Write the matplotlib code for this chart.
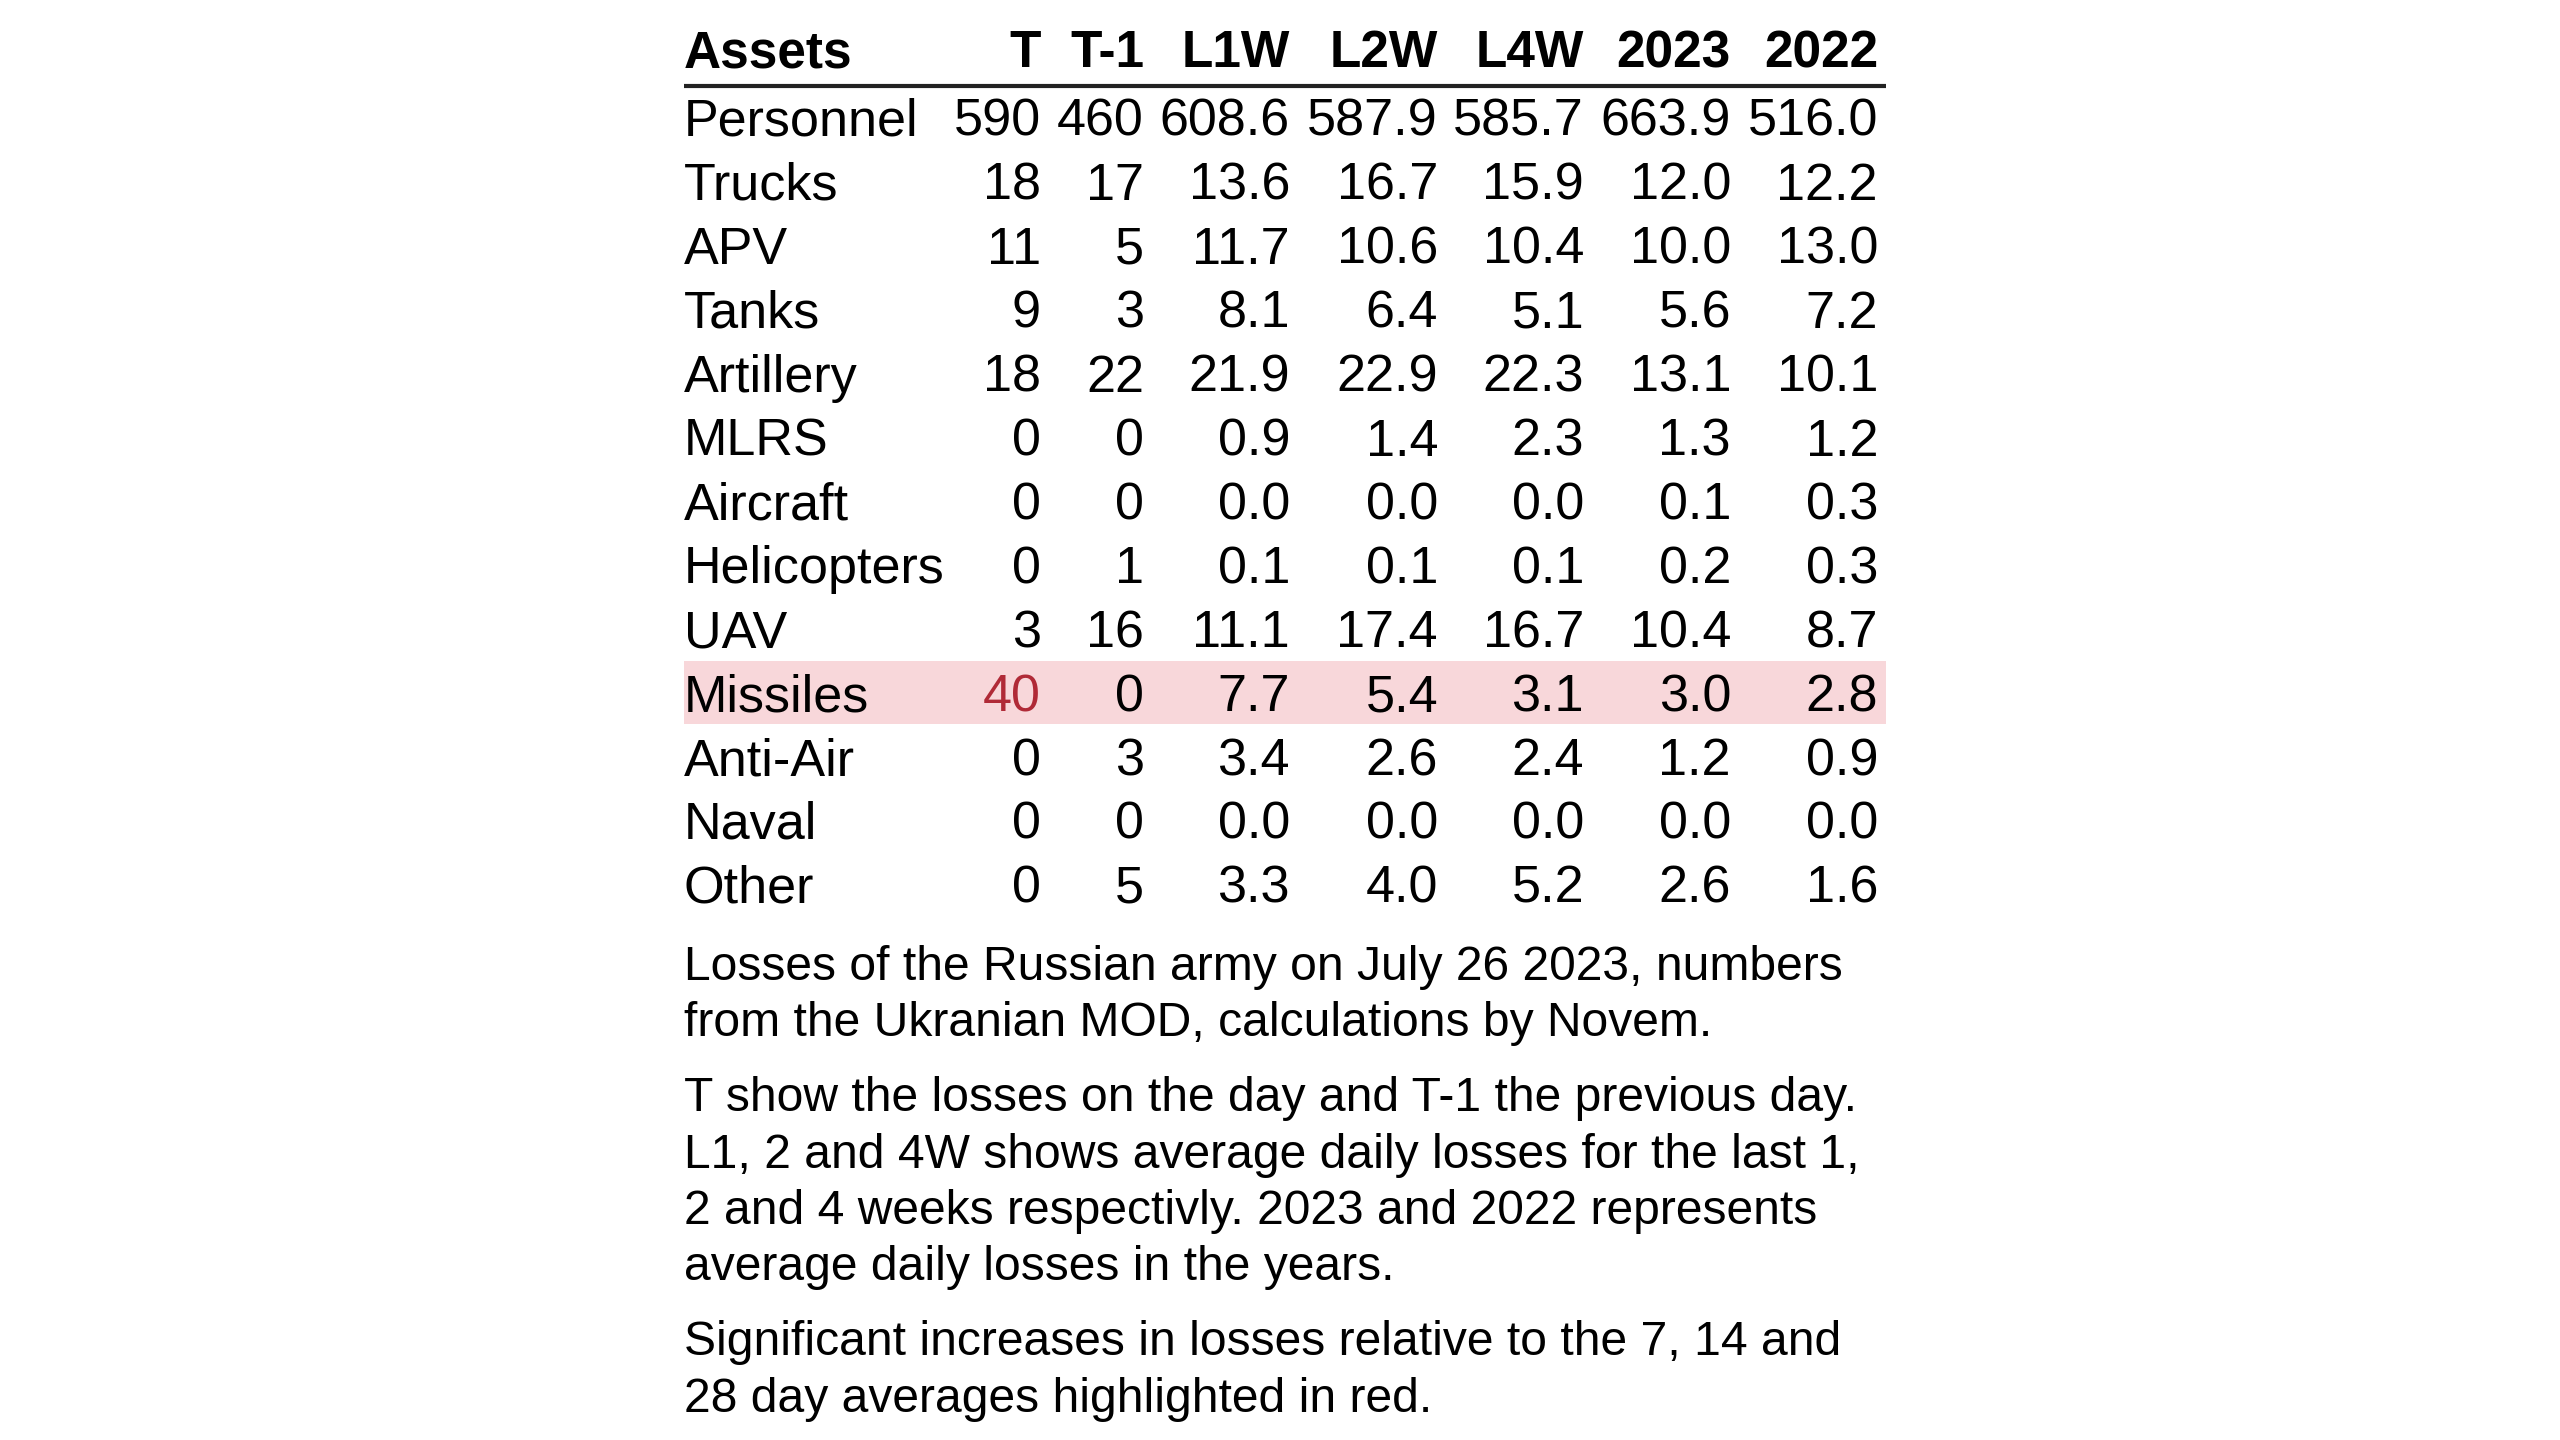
import matplotlib
matplotlib.use('Agg')
import matplotlib.pyplot as plt

plt.rcParams['font.family'] = ['Liberation Sans', 'DejaVu Sans']

# data
assets = ['Personnel', 'Trucks', 'APV', 'Tanks', 'Artillery', 'MLRS', 'Aircraft',
          'Helicopters', 'UAV', 'Missiles', 'Anti-Air', 'Naval', 'Other']
col_labels = ['T', 'T-1', 'L1W', 'L2W', 'L4W', '2023', '2022']
t_vals = [590, 18, 11, 9, 18, 0, 0, 0, 3, 40, 0, 0, 0]
t1_vals = [460, 17, 5, 3, 22, 0, 0, 1, 16, 0, 3, 0, 5]
l1w_vals = [608.6, 13.6, 11.7, 8.1, 21.9, 0.9, 0.0, 0.1, 11.1, 7.7, 3.4, 0.0, 3.3]
l2w_vals = [587.9, 16.7, 10.6, 6.4, 22.9, 1.4, 0.0, 0.1, 17.4, 5.4, 2.6, 0.0, 4.0]
l4w_vals = [585.7, 15.9, 10.4, 5.1, 22.3, 2.3, 0.0, 0.1, 16.7, 3.1, 2.4, 0.0, 5.2]
y2023_vals = [663.9, 12.0, 10.0, 5.6, 13.1, 1.3, 0.1, 0.2, 10.4, 3.0, 1.2, 0.0, 2.6]
y2022_vals = [516.0, 12.2, 13.0, 7.2, 10.1, 1.2, 0.3, 0.3, 8.7, 2.8, 0.9, 0.0, 1.6]
# cells flagged as significant increase
flagged = [('Missiles', 'T')]

notes = [
    ['Losses of the Russian army on July 26 2023, numbers',
     'from the Ukranian MOD, calculations by Novem.'],
    ['T show the losses on the day and T-1 the previous day.',
     'L1, 2 and 4W shows average daily losses for the last 1,',
     '2 and 4 weeks respectivly. 2023 and 2022 represents',
     'average daily losses in the years.'],
    ['Significant increases in losses relative to the 7, 14 and',
     '28 day averages highlighted in red.'],
]

columns = [t_vals, t1_vals, l1w_vals, l2w_vals, l4w_vals, y2023_vals, y2022_vals]
decimals = [0, 0, 1, 1, 1, 1, 1]

# layout in pixels
left, right = 684, 1886
col_right = [1041, 1144, 1290, 1438, 1584, 1731, 1878]
header_base = 67
line_y = 86
row0_base = 136
row_h = 63.9
red = '#B02A37'
pink = '#F8D7DA'
body_fs = 37.5
head_fs = 37
note_fs = 34.6

fig = plt.figure(figsize=(25.6, 14.4), dpi=100)
ax = fig.add_axes([0, 0, 1, 1])
ax.set_xlim(0, 2560)
ax.set_ylim(1440, 0)
ax.axis('off')

# header
ax.text(left, header_base, 'Assets', fontsize=head_fs, fontweight='bold',
        ha='left', va='baseline')
for lab, xr in zip(col_labels, col_right):
    ax.text(xr, header_base, lab, fontsize=head_fs, fontweight='bold',
            ha='right', va='baseline')
ax.plot([left, right], [line_y, line_y], color='#222222', lw=3, solid_capstyle='butt')

# rows
flag_rows = {a for a, c in flagged}
for i, name in enumerate(assets):
    base = row0_base + i * row_h
    if name in flag_rows:
        ax.fill_between([left, right], base - 50, base + 13, color=pink, lw=0, zorder=0)
    ax.text(left, base, name, fontsize=body_fs, ha='left', va='baseline')
    for j, (vals, nd, xr) in enumerate(zip(columns, decimals, col_right)):
        s = f'{vals[i]:.{nd}f}'
        c = red if (name, col_labels[j]) in flagged else 'black'
        ax.text(xr, base, s, fontsize=body_fs, ha='right', va='baseline', color=c)

# footnotes
y = 980
for para in notes:
    for ln in para:
        ax.text(left, y, ln, fontsize=note_fs, ha='left', va='baseline')
        y += 56.5
    y += 18

fig.savefig('out.png', dpi=100, facecolor='white')
